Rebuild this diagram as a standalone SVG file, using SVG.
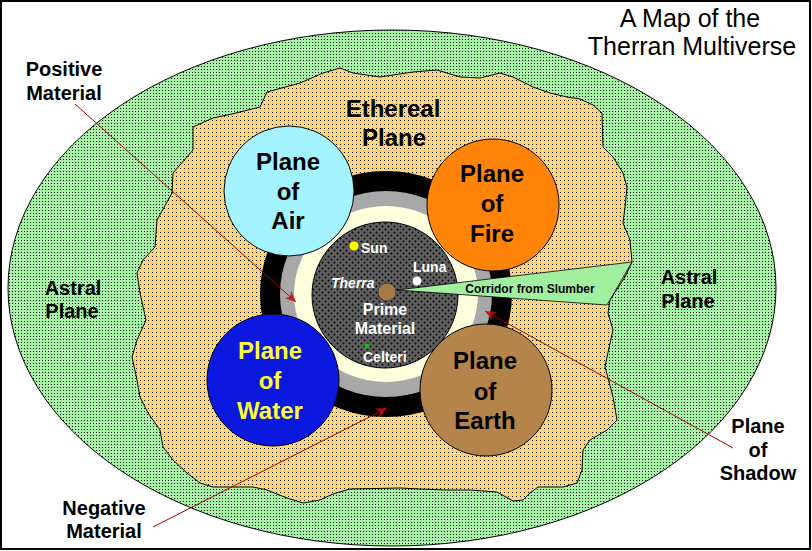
<svg xmlns="http://www.w3.org/2000/svg" width="812" height="551" viewBox="0 0 812 551">
<style>
text{font-family:"Liberation Sans",Arial,sans-serif;font-weight:bold}
.lbl{font-size:20px;fill:#000;text-anchor:middle}
.pl{font-size:24px;text-anchor:middle}
.small{font-size:14px;fill:#fff}
.ol{stroke:#000;stroke-width:1}
.conn{stroke:#B00000;stroke-width:1;fill:none;marker-end:url(#arr)}
</style>
<defs>
<pattern id="pGreen" width="3" height="3" patternUnits="userSpaceOnUse"><rect width="3" height="3" fill="#A4F4A4"/><rect width="1" height="1" fill="#000"/></pattern>
<pattern id="pEth" width="4" height="4" patternUnits="userSpaceOnUse"><rect width="4" height="4" fill="#FFD480"/><rect width="1" height="1" fill="#000"/></pattern>
<pattern id="pPrime" width="6" height="6" patternUnits="userSpaceOnUse"><rect width="6" height="6" fill="#606060"/><circle cx="1.5" cy="1.5" r="1" fill="#000"/><circle cx="4.5" cy="4.5" r="1" fill="#000"/></pattern>
<marker id="arr" markerWidth="12" markerHeight="10" refX="11" refY="5" orient="auto" markerUnits="userSpaceOnUse"><path d="M0,0 L11,5 L0,10 L3,5 Z" fill="#C01010" opacity="0.85"/></marker>
</defs>
<rect x="0" y="0" width="812" height="551" fill="#fff"/>
<g id="astral">
<ellipse cx="392" cy="288" rx="384" ry="258" fill="url(#pGreen)" class="ol"/>
</g>
<g id="ethereal">
<path class="ol" fill="url(#pEth)" d="M137,380 L132,357 L137,340 L146,320 L140,293 L137,273 L143,260 L155,247 L157,220 L172,193 L173,173 L193,150 L193,127 L213,118 L232,114 L260,107 L267,92 L300,83 L323,73 L340,68 L353,73 L380,77 L413,72 L437,70 L460,77 L480,78 L500,73 L513,77 L533,87 L550,93 L567,97 L580,99 L593,105 L602,113 L603,147 L613,157 L623,173 L627,187 L625,207 L623,223 L630,240 L632,262 L625,277 L610,300 L608,313 L613,330 L607,357 L605,367 L608,378 L613,397 L617,420 L607,430 L590,440 L583,450 L582,470 L577,483 L563,487 L538,487 L530,493 L523,500 L513,501 L497,492 L470,490 L446,490 L420,489 L400,488 L350,489 L333,494 L320,500 L303,503 L287,498 L267,490 L253,487 L233,487 L213,487 L200,483 L187,473 L173,460 L163,447 L160,430 L148,413 L140,397 Z"/>
<text class="lbl" x="393" y="117" style="font-size:24px">Ethereal</text>
<text class="lbl" x="394" y="146" style="font-size:24px">Plane</text>
</g>
<g id="shadow-rings">
<ellipse cx="386" cy="294" rx="126" ry="123" fill="#000"/>
<ellipse cx="386" cy="294" rx="106" ry="103" fill="#A8A8A8"/>
<ellipse cx="386" cy="294" rx="92" ry="88" fill="#FFFFDE"/>
</g>
<g id="prime-material">
<circle cx="385" cy="295" r="73" fill="url(#pPrime)" class="ol"/>
</g>
<g id="corridor">
<polygon points="397,290 632,262 607,305" fill="#A0F0A0" stroke="#000" stroke-width="0.8"/>
<text x="530" y="293" style="font-size:12px" text-anchor="middle" fill="#000">Corridor from Slumber</text>
</g>
<g id="prime-labels">
<circle cx="354" cy="246" r="5" fill="#FFFF00" stroke="#555" stroke-width="0.8"/>
<text class="small" x="361" y="253">Sun</text>
<circle cx="417" cy="281" r="4.5" fill="#fff"/>
<text class="small" x="413" y="272">Luna</text>
<text class="small" x="331" y="288" font-style="italic">Therra</text>
<circle cx="387" cy="292" r="9" fill="#A87A48" stroke="#333" stroke-width="0.8"/>
<text x="385" y="315" text-anchor="middle" fill="#fff" style="font-size:16px">Prime</text>
<text x="385" y="334" text-anchor="middle" fill="#fff" style="font-size:16px">Material</text>
<circle cx="367" cy="346" r="2.5" fill="#10C010"/>
<text class="small" x="363" y="362">Celteri</text>
</g>
<g id="plane-air">
<circle cx="289" cy="191" r="65" fill="#A4F4FF" class="ol"/>
<text class="pl" x="288" y="170" fill="#000">Plane</text>
<text class="pl" x="288" y="200" fill="#000">of</text>
<text class="pl" x="288" y="229" fill="#000">Air</text>
</g>
<g id="plane-fire">
<circle cx="493" cy="205" r="66" fill="#FF8408" class="ol"/>
<text class="pl" x="492" y="182" fill="#000">Plane</text>
<text class="pl" x="492" y="212" fill="#000">of</text>
<text class="pl" x="492" y="242" fill="#000">Fire</text>
</g>
<g id="plane-water">
<circle cx="273" cy="380" r="66" fill="#0A18E0" class="ol"/>
<text class="pl" x="270" y="359" fill="#FFFF33">Plane</text>
<text class="pl" x="270" y="389" fill="#FFFF33">of</text>
<text class="pl" x="270" y="419" fill="#FFFF33">Water</text>
</g>
<g id="plane-earth">
<circle cx="486" cy="390" r="66" fill="#B5844A" class="ol"/>
<text class="pl" x="485" y="369" fill="#000">Plane</text>
<text class="pl" x="485" y="400" fill="#000">of</text>
<text class="pl" x="485" y="429" fill="#000">Earth</text>
</g>
<g id="labels">
<text class="lbl" x="73" y="295">Astral</text>
<text class="lbl" x="72" y="318">Plane</text>
<text class="lbl" x="689" y="284">Astral</text>
<text class="lbl" x="688" y="308">Plane</text>
<text class="lbl" x="64" y="76">Positive</text>
<text class="lbl" x="64" y="100">Material</text>
<text class="lbl" x="104" y="515">Negative</text>
<text class="lbl" x="104" y="538">Material</text>
<text class="lbl" x="758" y="433">Plane</text>
<text class="lbl" x="758" y="457">of</text>
<text class="lbl" x="758" y="480">Shadow</text>
</g>
<g id="title">
<text x="690" y="27" text-anchor="middle" style="font-size:25px;font-weight:normal">A Map of the</text>
<text x="692" y="55" text-anchor="middle" style="font-size:25px;font-weight:normal">Therran Multiverse</text>
</g>
<g id="connectors">
<line class="conn" x1="75" y1="104" x2="296" y2="302"/>
<line class="conn" x1="153" y1="527" x2="387" y2="408"/>
<line class="conn" x1="733" y1="448" x2="485" y2="311"/>
</g>
<rect x="1" y="1" width="809" height="548" fill="none" stroke="#000" stroke-width="2"/>
</svg>
